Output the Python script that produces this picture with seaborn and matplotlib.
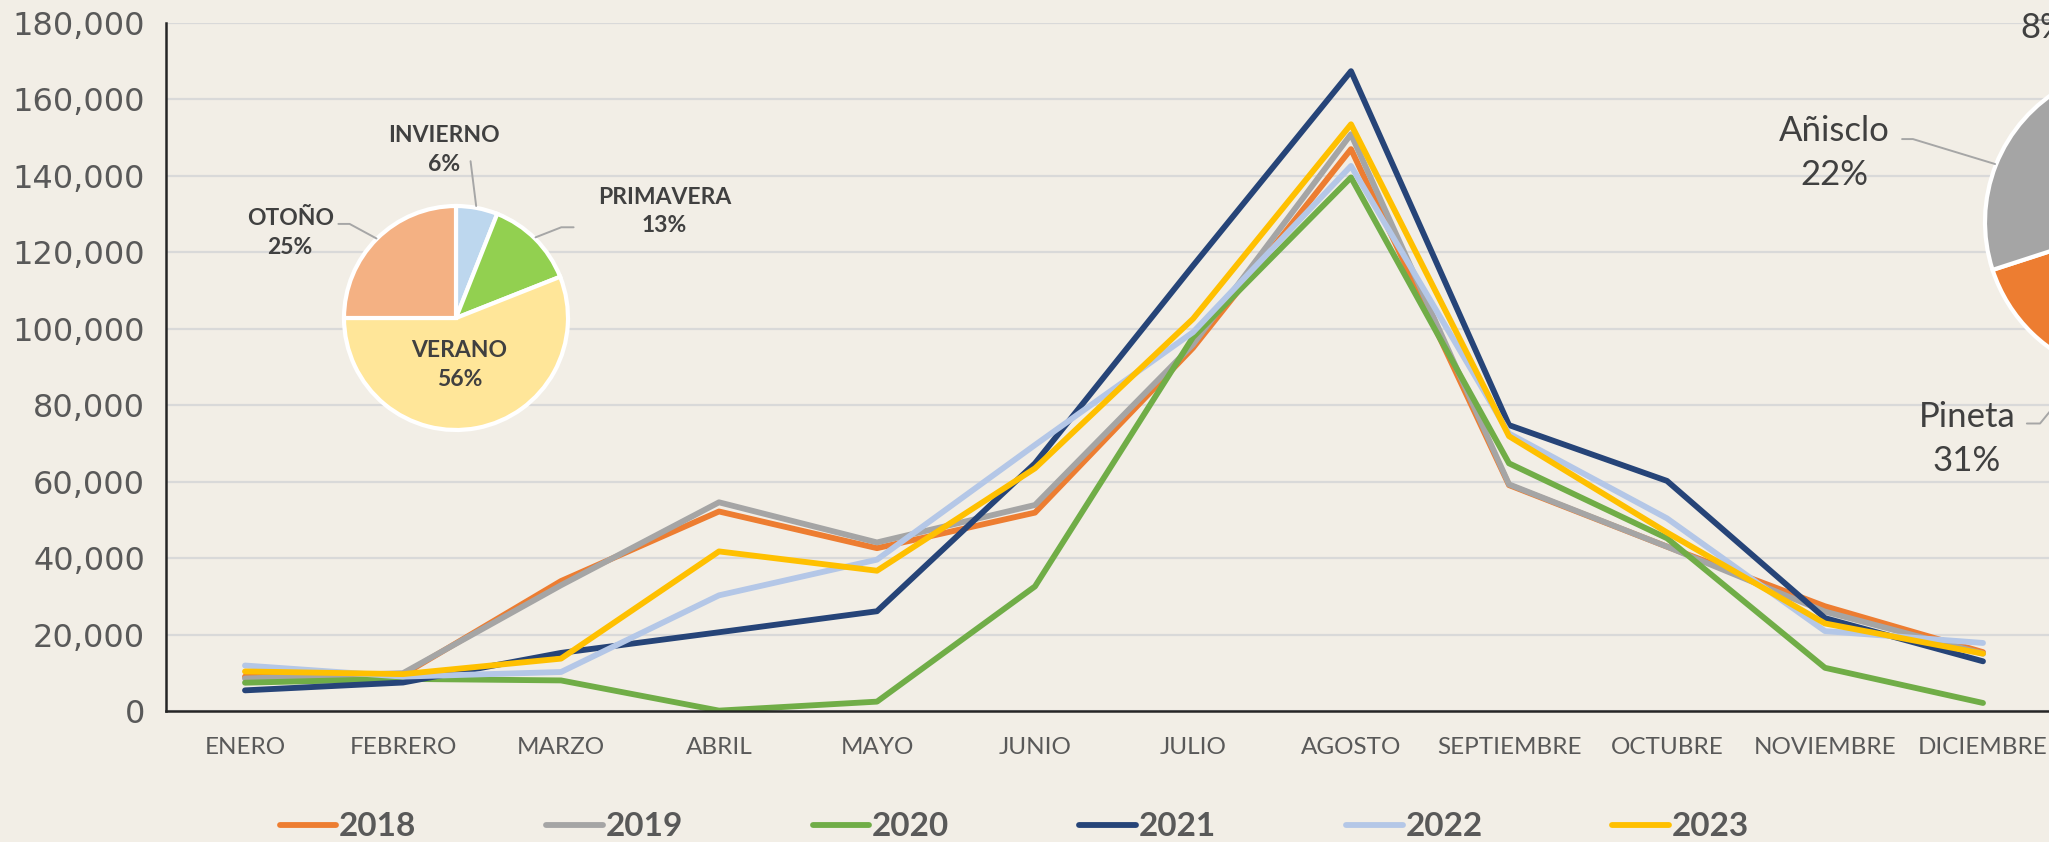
import numpy as np
import pandas as pd
import matplotlib
matplotlib.use("Agg")
import matplotlib.pyplot as plt
from matplotlib.ticker import FuncFormatter
import seaborn as sns

# Visitantes mensuales por año
months = ['ENERO', 'FEBRERO', 'MARZO', 'ABRIL', 'MAYO', 'JUNIO', 'JULIO',
          'AGOSTO', 'SEPTIEMBRE', 'OCTUBRE', 'NOVIEMBRE', 'DICIEMBRE']
years = ['2018', '2019', '2020', '2021', '2022', '2023']
v2018 = [9000, 9500, 34000, 52200, 42600, 51900, 95000, 147000, 59100, 43000, 27400, 15400]
v2019 = [8500, 9900, 32900, 54600, 44100, 53900, 95900, 150900, 59300, 43000, 26000, 15000]
v2020 = [7400, 8400, 8000, 100, 2450, 32600, 97800, 139600, 64800, 45200, 11300, 2100]
v2021 = [5400, 7450, 15200, 20600, 26100, 64800, 116500, 167400, 74800, 60200, 24300, 13000]
v2022 = [11900, 9000, 10200, 30260, 39600, 69600, 99100, 142600, 72600, 50400, 20900, 17800]
v2023 = [10350, 9650, 13700, 41750, 36700, 63500, 102600, 153500, 71900, 46700, 22900, 15000]
year_colors = ['#ED7D31', '#A5A5A5', '#70AD47', '#264478', '#B4C7E7', '#FFC000']

# Estaciones
seasons = ['INVIERNO', 'PRIMAVERA', 'VERANO', 'OTOÑO']
season_pct = [6, 13, 56, 25]
season_colors = ['#BDD7EE', '#92D050', '#FFE699', '#F4B183']

# Sectores (el pie queda cortado por el borde derecho)
sectors = ['Ordesa', 'Pineta', 'Añisclo', 'Escuaín']
sector_pct = [39, 31, 22, 8]
sector_colors = ['#5B9BD5', '#ED7D31', '#A5A5A5', '#FFC000']

BG = '#F2EEE6'
TXT = '#595959'
DARK = '#404040'

sns.set_style('white')
plt.rcParams['font.family'] = ['Lato', 'DejaVu Sans']

rows = []
for y, vals in zip(years, [v2018, v2019, v2020, v2021, v2022, v2023]):
    for i, v in enumerate(vals):
        rows.append({'Año': y, 'mes': i, 'visitantes': v})
df = pd.DataFrame(rows)

fig = plt.figure(figsize=(20.49, 8.42), dpi=100, facecolor=BG)
W, H = 2049, 842

ax = fig.add_axes([166 / W, 131 / H, 1896 / W, 688 / H])
ax.set_facecolor('none')
sns.lineplot(data=df, x='mes', y='visitantes', hue='Año', hue_order=years,
             palette=dict(zip(years, year_colors)), linewidth=4.2, sort=False, ax=ax)
handles, labels = ax.get_legend_handles_labels()
ax.legend_.remove()

ax.set_xlim(-0.5, 11.5)
ax.set_ylim(0, 180000)
ax.set_yticks(np.arange(0, 180001, 20000))
ax.yaxis.set_major_formatter(FuncFormatter(lambda v, p: f'{v:,.0f}'))
ax.grid(axis='y', color='#D9D9D9', linewidth=1.6)
ax.set_axisbelow(True)
ax.set_xlabel('')
ax.set_ylabel('')
for s in ['top', 'right']:
    ax.spines[s].set_visible(False)
for s in ['left', 'bottom']:
    ax.spines[s].set_color('#262626')
    ax.spines[s].set_linewidth(1.8)

ax.set_xticks(np.arange(-0.5, 12, 1))
ax.set_xticklabels([])
ax.set_xticks(np.arange(12), minor=True)
ax.set_xticklabels(months, minor=True)
ax.tick_params(axis='x', which='major', direction='in', length=8, width=1.5, color='#262626')
ax.tick_params(axis='x', which='minor', length=0, pad=19, labelsize=17.5, labelcolor=TXT)
ax.tick_params(axis='y', direction='out', length=9, width=1.5, color='#262626',
               pad=6, labelsize=23, labelcolor=TXT)
for t in ax.get_yticklabels():
    t.set_family('DejaVu Sans')

fig.legend(handles, labels, ncol=6, loc='center', bbox_to_anchor=(0.495, 0.018),
           frameon=False, handlelength=1.7, handletextpad=0.08, columnspacing=3.9,
           prop={'family': 'Lato', 'weight': 'bold', 'size': 24}, labelcolor=TXT)

# Pie de estaciones
r1 = 112
cx1, cy1 = 456, 318
pax = fig.add_axes([(cx1 - r1) / W, (H - cy1 - r1) / H, 2 * r1 / W, 2 * r1 / H])
pax.pie(season_pct, colors=season_colors, startangle=90, counterclock=False,
        wedgeprops={'edgecolor': 'white', 'linewidth': 3})
pax.set_xlim(-1, 1)
pax.set_ylim(-1, 1)
pax.axis('off')
lab1 = {'INVIERNO': (-0.11, 1.5), 'PRIMAVERA': (1.86, 0.95), 'VERANO': (0.03, -0.42), 'OTOÑO': (-1.48, 0.76)}
for name, p in zip(seasons, season_pct):
    x, y = lab1[name]
    pax.text(x, y, f'{name}\n{p}%', ha='center', va='center', fontsize=16.5,
             fontweight='bold', color=DARK, linespacing=1.45, clip_on=False)
lead1 = [[(0.13, 1.40), (0.18, 1.0)],
         [(1.05, 0.81), (0.94, 0.81), (0.71, 0.72)],
         [(-1.05, 0.84), (-0.95, 0.84), (-0.71, 0.71)]]
for pts in lead1:
    xs, ys = zip(*pts)
    pax.plot(xs, ys, color='#A6A6A6', linewidth=1.4, clip_on=False)

# Pie de sectores
r2 = 155
cx2, cy2 = 2140, 222
qax = fig.add_axes([(cx2 - r2) / W, (H - cy2 - r2) / H, 2 * r2 / W, 2 * r2 / H])
qax.pie(sector_pct, colors=sector_colors, startangle=90, counterclock=False,
        wedgeprops={'edgecolor': 'white', 'linewidth': 3})
qax.set_xlim(-1, 1)
qax.set_ylim(-1, 1)
qax.axis('off')
# solo las etiquetas que caen dentro de la imagen
lab2 = {'Pineta': (-1.116, -1.40), 'Añisclo': (-1.97, 0.445), 'Escuaín': (-0.62, 1.39)}
for name, p in zip(sectors, sector_pct):
    if name not in lab2:
        continue
    x, y = lab2[name]
    qax.text(x, y, f'{name}\n{p}%', ha='center', va='center', fontsize=25,
             color=DARK, linespacing=1.45, clip_on=False)
lead2 = [[(-1.535, 0.535), (-1.465, 0.535), (-0.935, 0.374)],
         [(-0.73, -1.30), (-0.645, -1.30), (-0.35, -0.94)],
         [(-0.68, 1.30), (-0.42, 1.30), (-0.22, 0.97)]]
for pts in lead2:
    xs, ys = zip(*pts)
    qax.plot(xs, ys, color='#A6A6A6', linewidth=1.4, clip_on=False)

fig.savefig('out.png', dpi=100, facecolor=BG)
